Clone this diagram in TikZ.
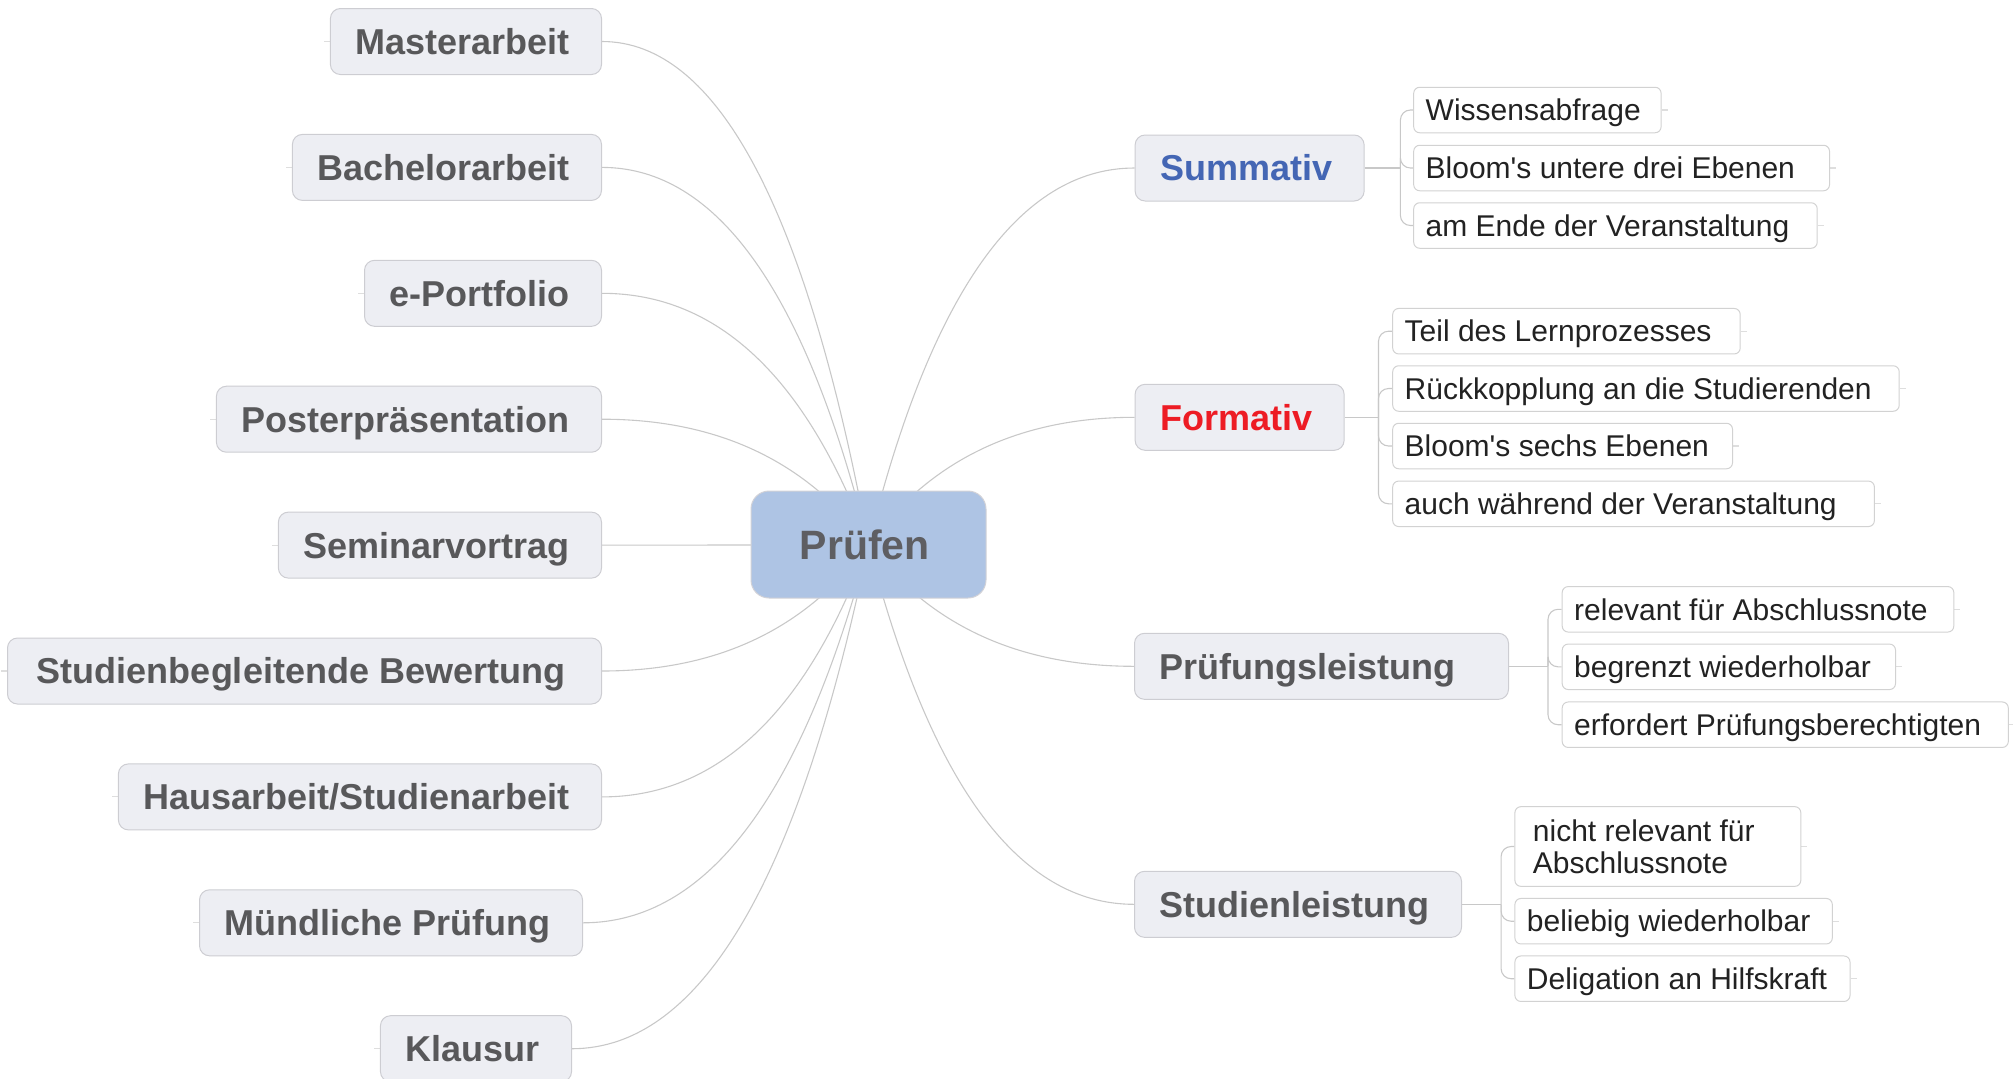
\documentclass[tikz,border=0pt]{standalone}
\usepackage{fontspec}
\setmainfont{Liberation Sans}
\newfontfamily\leaffont{Liberation Sans}
\usetikzlibrary{calc,backgrounds}
\definecolor{edgecol}{RGB}{200,200,200}
\definecolor{stubcol}{RGB}{222,222,222}
\definecolor{mainfill}{RGB}{237,238,243}
\definecolor{mainborder}{RGB}{205,205,210}
\definecolor{maintext}{RGB}{88,88,90}
\definecolor{centerfill}{RGB}{174,196,228}
\definecolor{centerborder}{RGB}{210,210,215}
\definecolor{centertext}{RGB}{94,94,98}
\definecolor{sumblue}{RGB}{68,102,180}
\definecolor{formred}{RGB}{237,28,36}
\definecolor{leaftext}{RGB}{34,34,34}
\definecolor{leafborder}{RGB}{210,210,210}
\begin{document}
\begin{tikzpicture}[x=0.5pt,y=-0.5pt,
  mainbox/.style={draw=mainborder, fill=mainfill, line width=0.5pt, rounded corners=5pt,
    minimum height=33pt, inner xsep=12.5pt, inner ysep=0pt, text height=12.9pt, text depth=0pt,
    text=maintext, font=\fontsize{18}{21.6}\selectfont\bfseries, execute at end node={\kern3.5pt}},
  leaf/.style={draw=leafborder, fill=white, line width=0.5pt, rounded corners=3pt, anchor=west,
    minimum height=22.75pt, inner xsep=6pt, inner ysep=0pt, text height=10.75pt, text depth=0pt,
    text=leaftext, font=\leaffont\fontsize{15}{16.15}\selectfont},
  edge/.style={draw=edgecol, line width=0.55pt},
  stub/.style={draw=stubcol, line width=0.55pt},
  bar/.style={draw=edgecol, line width=0.55pt, rounded corners=5pt}]
\useasboundingbox (0,0) rectangle (2013,1078);

% centre
\node[draw=centerborder, fill=centerfill, line width=0.5pt, rounded corners=9pt,
  minimum width=117.5pt, minimum height=53.5pt, inner sep=0pt, text=centertext,
  font=\fontsize{20.5}{24}\selectfont\bfseries, text height=14.68pt, text depth=0pt]
  (P) at (868.5,544.5) {Prüfen\kern3.8pt};

% left branches
\node[mainbox,anchor=east] (ma) at (602,41.5) {Masterarbeit};
\node[mainbox,anchor=east] (ba) at (602,167.4) {Bachelorarbeit};
\node[mainbox,anchor=east] (ep) at (602,293.3) {e-Portfolio};
\node[mainbox,anchor=east] (pp) at (602,419.2) {Posterpräsentation};
\node[mainbox,anchor=east] (sv) at (602,545.1) {Seminarvortrag};
\node[mainbox,anchor=east,minimum width=297pt] (sb) at (602,671.0) {Studienbegleitende Bewertung};
\node[mainbox,anchor=east] (ha) at (602,796.9) {Hausarbeit/Studienarbeit};
\node[mainbox,anchor=east] (mp) at (583,922.8) {Mündliche Prüfung};
\node[mainbox,anchor=east] (kl) at (572,1048.7) {Klausur};

% right branches
\node[mainbox,anchor=west,text=sumblue] (su) at (1134.6,168) {Summativ};
\node[mainbox,anchor=west,text=formred] (fo) at (1134.6,417.3) {Formativ};
\node[mainbox,anchor=west] (pl) at (1134,666.3) {Prüfungsleistung\kern10.5pt};
\node[mainbox,anchor=west] (sl) at (1134,904.3) {Studienleistung};

% leaves
\node[leaf] (s1) at (1413.2,110) {\makebox[111.7pt][l]{Wissensabfrage}};
\node[leaf] (s2) at (1413.2,168) {\makebox[195.9pt][l]{Bloom's untere drei Ebenen}};
\node[leaf] (s3) at (1413.2,225.5) {\makebox[189.75pt][l]{am Ende der Veranstaltung}};

\node[leaf] (f1) at (1392.2,331.2) {\makebox[161.75pt][l]{Teil des Lernprozesses}};
\node[leaf] (f2) at (1392.2,388.5) {\makebox[241.25pt][l]{Rückkopplung an die Studierenden}};
\node[leaf] (f3) at (1392.2,446) {\makebox[157.9pt][l]{Bloom's sechs Ebenen}};
\node[leaf] (f4) at (1392.2,503.8) {\makebox[228.85pt][l]{auch während der Veranstaltung}};

\node[leaf] (p1) at (1561.7,609.3) {\makebox[183.8pt][l]{relevant für Abschlussnote}};
\node[leaf] (p2) at (1561.7,666.8) {\makebox[154.65pt][l]{begrenzt wiederholbar}};
\node[leaf] (p3) at (1561.7,724.7) {\makebox[211.05pt][l]{erfordert Prüfungsberechtigten}};

\node[leaf, inner xsep=9pt, minimum height=39.85pt, text height=26.9pt] (l1) at (1514.4,846.5)
  {\makebox[124.95pt][l]{\vbox{\baselineskip=16.15pt\hbox{nicht relevant für}\hbox{Abschlussnote}}}};
\node[leaf] (l2) at (1514.4,921.2) {\makebox[146.7pt][l]{beliebig wiederholbar}};
\node[leaf] (l3) at (1514.4,978.7) {\makebox[155.55pt][l]{Deligation an Hilfskraft}};

% junctions of the leaf brackets
\coordinate (suj) at (1400.4,168);
\coordinate (foj) at (1378.5,417.3);
\coordinate (plj) at (1548,666.3);
\coordinate (slj) at (1501.1,904.3);

\begin{scope}[on background layer]
  \foreach \n in {ma,ba,ep,pp,sv,sb,ha,mp,kl} {
    \coordinate (t) at (P.center |- \n.east);
    \coordinate (q) at ($(\n.east)!0.65!(t)$);
    \draw[edge] (\n.east) .. controls ($(\n.east)!0.6667!(q)$) and ($(P.center)!0.6667!(q)$) .. (P.center);
    \draw[stub] (\n.west) -- ++(-6,0);
  }
  \foreach \n in {su,fo,pl,sl} {
    \coordinate (t) at (P.center |- \n.west);
    \coordinate (q) at ($(\n.west)!0.65!(t)$);
    \draw[edge] (\n.west) .. controls ($(\n.west)!0.6667!(q)$) and ($(P.center)!0.6667!(q)$) .. (P.center);
  }
  \draw[edge] (su.east) -- (suj);
  \foreach \n in {s1,s2,s3} { \draw[bar] (suj) |- (\n.west); }
  \draw[edge] (fo.east) -- (foj);
  \foreach \n in {f1,f2,f3,f4} { \draw[bar] (foj) |- (\n.west); }
  \draw[edge] (pl.east) -- (plj);
  \foreach \n in {p1,p2,p3} { \draw[bar] (plj) |- (\n.west); }
  \draw[edge] (sl.east) -- (slj);
  \foreach \n in {l1,l2,l3} { \draw[bar] (slj) |- (\n.west); }
  \foreach \n in {s1,s2,s3,f1,f2,f3,f4,p1,p2,p3,l1,l2,l3} { \draw[stub] (\n.east) -- ++(6,0); }
\end{scope}
\end{tikzpicture}
\end{document}
